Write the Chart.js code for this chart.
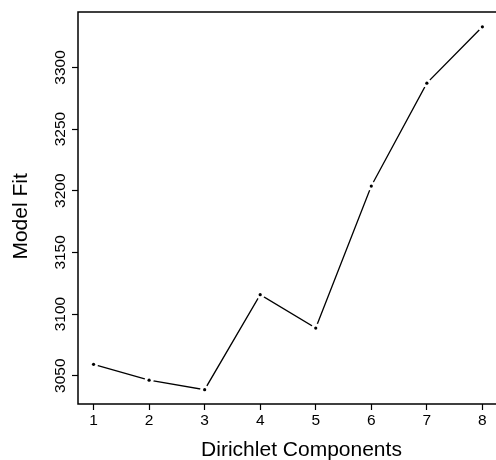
<!DOCTYPE html>
<html>
<head>
<meta charset="utf-8">
<script src="https://cdn.jsdelivr.net/npm/chart.js@4/dist/chart.umd.min.js"></script>
<style>
html, body { margin: 0; padding: 0; background: #fff; overflow: hidden; width: 496px; height: 460px; }
#wrap { width: 496px; height: 460px; }
canvas { display: block; }
</style>
</head>
<body>
<div id="wrap"><canvas id="c" width="496" height="460"></canvas></div>
<script>
const components = [1, 2, 3, 4, 5, 6, 7, 8];
const modelFit = [3059.2, 3046.3, 3038.6, 3115.7, 3088.6, 3203.8, 3287.3, 3333.0];
const xTicks = [1, 2, 3, 4, 5, 6, 7, 8];
const yTicks = [3050, 3100, 3150, 3200, 3250, 3300];
const xLabel = 'Dirichlet Components';
const yLabel = 'Model Fit';

const pts = components.map((c, i) => ({ x: c, y: modelFit[i] }));
const FONT = 'Liberation Sans, Arial, Helvetica, sans-serif';

const boxPlugin = {
  id: 'box',
  afterDatasetsDraw(chart) {
    const { ctx, chartArea: a } = chart;
    ctx.save();
    ctx.strokeStyle = '#000';
    ctx.lineWidth = 1.5;
    ctx.beginPath();
    ctx.moveTo(chart.width, a.top);
    ctx.lineTo(a.left, a.top);
    ctx.lineTo(a.left, a.bottom);
    ctx.lineTo(chart.width, a.bottom);
    ctx.stroke();
    ctx.restore();
  }
};

const axisTitlePlugin = {
  id: 'axisTitles',
  afterDraw(chart) {
    const { ctx } = chart;
    ctx.save();
    ctx.fillStyle = '#000';
    ctx.font = '21px ' + FONT;
    ctx.textAlign = 'center';
    ctx.textBaseline = 'alphabetic';
    ctx.fillText(xLabel, 301.5, 455.5);
    ctx.translate(27, 216.4);
    ctx.rotate(-Math.PI / 2);
    ctx.fillText(yLabel, 0, 0);
    ctx.restore();
  }
};

new Chart(document.getElementById('c'), {
  type: 'scatter',
  data: {
    datasets: [
      { data: pts, showLine: true, borderColor: '#000', borderWidth: 1.3, pointRadius: 0, tension: 0, order: 3 },
      { data: pts, showLine: false, pointRadius: 4.5, backgroundColor: '#fff', borderWidth: 0, order: 2 },
      { data: pts, showLine: false, pointRadius: 1.6, backgroundColor: '#000', borderColor: '#000', borderWidth: 0, order: 1 }
    ]
  },
  plugins: [boxPlugin, axisTitlePlugin],
  options: {
    responsive: false,
    animation: false,
    events: [],
    layout: { autoPadding: false, padding: { top: 12, right: 0, left: 0, bottom: 0 } },
    plugins: { legend: { display: false }, tooltip: { enabled: false } },
    scales: {
      x: {
        type: 'linear',
        min: 0.72, max: 8.245,
        afterBuildTicks: s => { s.ticks = xTicks.map(v => ({ value: v })); },
        afterFit: s => { s.height = 56; s.paddingLeft = 0; s.paddingRight = 0; },
        border: { display: false },
        grid: { display: true, drawOnChartArea: false, drawTicks: true, tickLength: 6, tickColor: '#000', tickWidth: 1.2 },
        ticks: { color: '#000', font: { family: FONT, size: 15.5 }, padding: 1, maxRotation: 0, minRotation: 0, callback: v => String(v) },
        title: { display: false, text: xLabel }
      },
      y: {
        type: 'linear',
        min: 3027, max: 3345,
        afterBuildTicks: s => { s.ticks = yTicks.map(v => ({ value: v })); },
        afterFit: s => { s.width = 78; s.paddingTop = 0; s.paddingBottom = 0; },
        border: { display: false },
        grid: { display: true, drawOnChartArea: false, drawTicks: true, tickLength: 6, tickColor: '#000', tickWidth: 1.2 },
        ticks: { color: '#000', font: { family: FONT, size: 15.5 }, padding: -6, minRotation: 90, maxRotation: 90, crossAlign: 'center', callback: v => String(v) },
        title: { display: false, text: yLabel }
      }
    }
  }
});
</script>
</body>
</html>
